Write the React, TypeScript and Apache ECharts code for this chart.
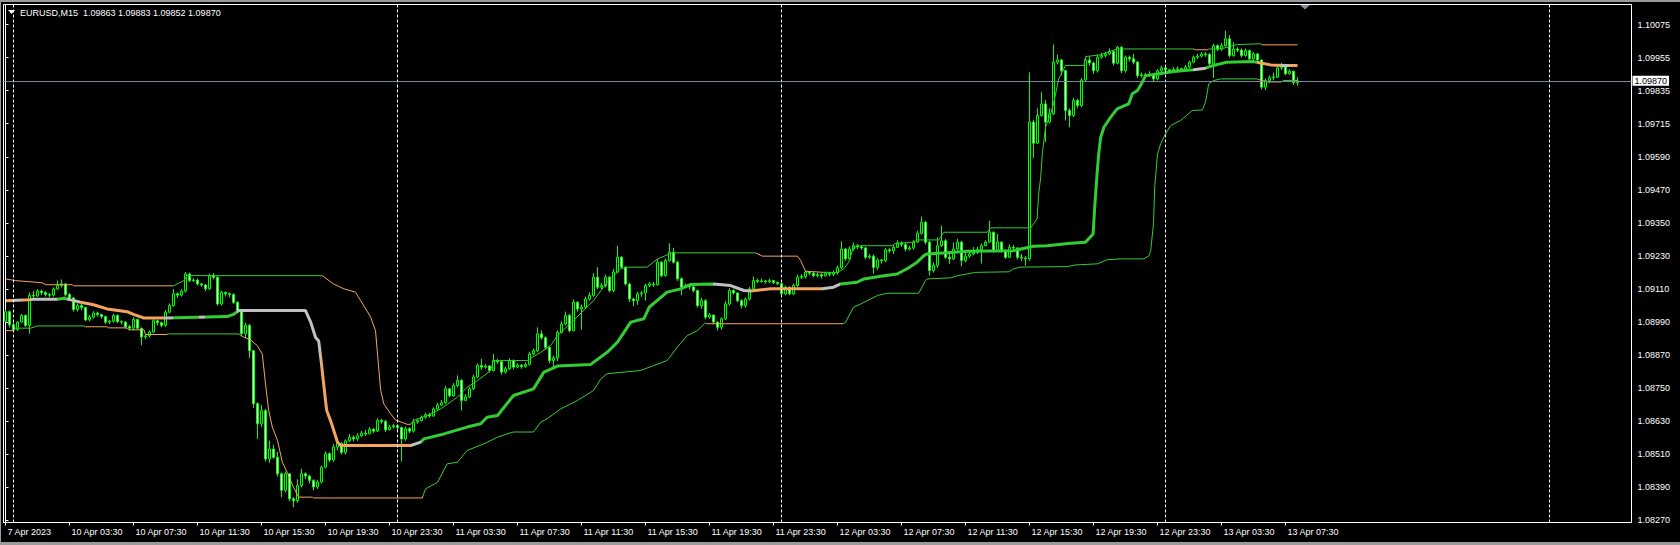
import React, { useEffect, useRef } from "react";
import * as echarts from "echarts";

// ---------- DATA (prices in points: price = 1 + p / 100000) ----------
const SYMBOL = "EURUSD,M15";
const OPEN0 = 8995;

const closes = [
  9030, 8982, 8965, 8992, 9016, 8980, 9089, 9087, 9105, 9100, 9092, 9090, 9112, 9125, 9131, 9092,
  9080, 9038, 9052, 9045, 9000, 9010, 9025, 9020, 9012, 8992, 8995, 9016, 8994, 8992, 8975, 8970,
  9002, 8970, 8938, 8942, 8956, 8997, 8990, 8980, 9028, 9052, 9095, 9090, 9105, 9167, 9143, 9145,
  9131, 9127, 9113, 9161, 9155, 9058, 9100, 9095, 9092, 9064, 9034, 8950, 8980, 8888, 8695, 8622,
  8670, 8494, 8530, 8500, 8440, 8380, 8440, 8349, 8342, 8397, 8440, 8432, 8416, 8392, 8410, 8464,
  8513, 8490, 8537, 8550, 8518, 8560, 8573, 8567, 8578, 8588, 8585, 8602, 8595, 8634, 8630, 8600,
  8610, 8615, 8608, 8567, 8604, 8595, 8628, 8634, 8646, 8655, 8650, 8676, 8690, 8698, 8749, 8724,
  8761, 8780, 8707, 8720, 8749, 8792, 8834, 8828, 8832, 8816, 8852, 8848, 8810, 8822, 8852, 8828,
  8835, 8830, 8838, 8876, 8888, 8949, 8935, 8900, 8852, 8862, 8955, 8985, 9016, 8961, 9064, 9040,
  9046, 9076, 9089, 9155, 9119, 9125, 9155, 9107, 9174, 9228, 9192, 9131, 9076, 9070, 9095, 9098,
  9125, 9131, 9128, 9210, 9161, 9216, 9246, 9210, 9150, 9119, 9125, 9120, 9107, 9052, 9070, 9010,
  9018, 8992, 8973, 9004, 9058, 9107, 9098, 9070, 9052, 9076, 9113, 9143, 9140, 9142, 9139, 9143,
  9136, 9132, 9095, 9119, 9095, 9125, 9155, 9158, 9174, 9170, 9161, 9165, 9160, 9170, 9166, 9172,
  9190, 9258, 9222, 9258, 9270, 9266, 9262, 9228, 9232, 9191, 9218, 9215, 9255, 9252, 9264, 9279,
  9274, 9258, 9262, 9283, 9315, 9355, 9283, 9180, 9198, 9270, 9288, 9228, 9222, 9258, 9283, 9216,
  9232, 9240, 9246, 9256, 9270, 9283, 9319, 9252, 9283, 9252, 9228, 9264, 9262, 9228, 9225, 9222,
  9720, 9643, 9744, 9786, 9720, 9750, 9938, 9946, 9907, 9762, 9744, 9798, 9780, 9873, 9946, 9935,
  9907, 9956, 9962, 9968, 9977, 9934, 9992, 9907, 9956, 9950, 9938, 9889, 9892, 9890, 9893, 9877,
  9907, 9917, 9910, 9905, 9912, 9914, 9911, 9920, 9938, 9956, 9960, 9968, 9966, 9932, 9998, 9985,
  9998, 10023, 9962, 9986, 9982, 9962, 9980, 9950, 9968, 9946, 9847, 9871, 9881, 9883, 9917, 9920,
  9896, 9905, 9863, 9870,
];

const highs = [
  9036, 9034, 8990, 8996, 9022, 9020, 9100, 9105, 9112, 9110, 9104, 9098, 9118, 9143, 9147, 9133,
  9098, 9082, 9060, 9062, 9048, 9018, 9032, 9030, 9022, 9015, 9000, 9022, 9020, 8998, 8995, 8982,
  9010, 9004, 8972, 8948, 8962, 9003, 9000, 8994, 9035, 9060, 9112, 9100, 9112, 9174, 9172, 9152,
  9150, 9135, 9130, 9168, 9170, 9158, 9106, 9104, 9100, 9097, 9068, 9036, 8990, 8985, 8890, 8700,
  8690, 8675, 8560, 8545, 8520, 8445, 8448, 8443, 8355, 8420, 8458, 8445, 8436, 8420, 8418, 8470,
  8522, 8518, 8548, 8560, 8555, 8565, 8585, 8580, 8588, 8596, 8600, 8610, 8606, 8642, 8640, 8636,
  8618, 8622, 8618, 8612, 8612, 8610, 8640, 8640, 8652, 8662, 8660, 8682, 8698, 8708, 8760, 8752,
  8770, 8798, 8784, 8730, 8756, 8800, 8842, 8858, 8840, 8836, 8876, 8858, 8852, 8830, 8860, 8856,
  8842, 8840, 8845, 8884, 8896, 8973, 8962, 8940, 8905, 8870, 8962, 8995, 9030, 9022, 9075, 9068,
  9056, 9085, 9100, 9170, 9192, 9135, 9165, 9160, 9185, 9270, 9232, 9195, 9135, 9080, 9102, 9106,
  9132, 9138, 9138, 9222, 9215, 9224, 9279, 9262, 9215, 9155, 9132, 9130, 9128, 9110, 9080, 9075,
  9025, 9012, 8995, 9010, 9068, 9115, 9112, 9100, 9075, 9082, 9120, 9158, 9150, 9150, 9146, 9150,
  9145, 9140, 9135, 9125, 9122, 9132, 9165, 9166, 9180, 9178, 9176, 9172, 9170, 9176, 9174, 9180,
  9198, 9286, 9262, 9268, 9282, 9276, 9272, 9266, 9240, 9238, 9225, 9222, 9262, 9262, 9272, 9290,
  9286, 9280, 9270, 9290, 9324, 9376, 9360, 9288, 9210, 9300, 9343, 9294, 9240, 9282, 9295, 9288,
  9245, 9250, 9265, 9266, 9278, 9290, 9361, 9322, 9312, 9286, 9256, 9275, 9272, 9265, 9240, 9232,
  9901, 9728, 9770, 9829, 9800, 9770, 10002, 9965, 9950, 9910, 9770, 9808, 9805, 9880, 9955, 9958,
  9940, 9965, 9972, 9976, 9988, 9980, 9998, 9996, 9962, 9962, 9968, 9942, 9900, 9898, 9905, 9896,
  9912, 9925, 9920, 9914, 9920, 9922, 9918, 9928, 9944, 9962, 9968, 9975, 9975, 9972, 10005, 10002,
  10008, 10053, 10036, 10010, 9992, 9988, 9988, 9984, 9975, 9972, 9948, 9878, 9890, 9900, 9925, 9935,
  9922, 9912, 9906, 9883,
];

const lows = [
  8990, 8972, 8958, 8960, 8990, 8975, 8950, 9075, 9085, 9090, 9085, 9083, 9085, 9110, 9118, 9085,
  9072, 9030, 9030, 9035, 8995, 8995, 9005, 9012, 9005, 8985, 8985, 8990, 8988, 8984, 8968, 8962,
  8962, 8965, 8908, 8930, 8936, 8952, 8980, 8973, 8975, 9024, 9048, 9080, 9085, 9100, 9138, 9138,
  9125, 9120, 9105, 9110, 9148, 9052, 9052, 9085, 9082, 9058, 9028, 8940, 8935, 8862, 8680, 8567,
  8610, 8485, 8480, 8495, 8430, 8355, 8372, 8340, 8318, 8335, 8390, 8420, 8405, 8380, 8385, 8405,
  8460, 8482, 8484, 8525, 8510, 8510, 8555, 8558, 8560, 8575, 8578, 8585, 8588, 8592, 8622, 8592,
  8598, 8605, 8600, 8485, 8560, 8588, 8590, 8622, 8630, 8640, 8644, 8648, 8670, 8686, 8695, 8718,
  8720, 8755, 8670, 8705, 8716, 8745, 8788, 8818, 8822, 8808, 8812, 8840, 8800, 8804, 8818, 8820,
  8825, 8822, 8826, 8834, 8870, 8882, 8928, 8892, 8842, 8828, 8850, 8950, 8980, 8955, 8958, 9030,
  8965, 9040, 9070, 9085, 9112, 9112, 9118, 9100, 9100, 9170, 9185, 9125, 9065, 9050, 9055, 9084,
  9070, 9120, 9120, 9125, 9155, 9158, 9212, 9205, 9142, 9090, 9115, 9110, 9100, 9045, 9040, 9002,
  9004, 8985, 8961, 8965, 9000, 9052, 9092, 9064, 9042, 9045, 9070, 9110, 9134, 9135, 9132, 9134,
  9130, 9126, 9085, 9090, 9090, 9090, 9120, 9148, 9150, 9162, 9155, 9155, 9150, 9158, 9158, 9160,
  9165, 9185, 9215, 9218, 9252, 9258, 9255, 9220, 9222, 9168, 9182, 9205, 9210, 9244, 9240, 9262,
  9266, 9250, 9252, 9255, 9280, 9310, 9275, 9161, 9172, 9190, 9265, 9222, 9204, 9218, 9252, 9195,
  9210, 9226, 9235, 9240, 9205, 9268, 9280, 9245, 9250, 9245, 9222, 9225, 9255, 9220, 9214, 9198,
  9215, 9590, 9640, 9740, 9647, 9715, 9745, 9930, 9890, 9726, 9701, 9738, 9770, 9775, 9868, 9925,
  9896, 9900, 9950, 9955, 9964, 9926, 9930, 9898, 9900, 9940, 9930, 9880, 9882, 9884, 9885, 9868,
  9872, 9902, 9904, 9898, 9905, 9906, 9904, 9908, 9915, 9934, 9950, 9955, 9958, 9922, 9880, 9978,
  9980, 9994, 9955, 9958, 9975, 9955, 9958, 9944, 9945, 9940, 9838, 9836, 9862, 9872, 9880, 9910,
  9890, 9893, 9855, 9852,
];

// indicator lines: vertices [bar index, price points]
const midLine = [
  [0, 9070], [6, 9073], [7, 9075], [13, 9075], [14.6, 9079], [16.3, 9073], [18.8, 9064], [22, 9055],
  [25.4, 9040], [30.4, 9030], [32, 9020], [34.6, 9007], [40.4, 9007], [55.4, 9012], [57, 9020],
  [58.3, 9034], [75, 9034], [76.3, 8992], [77.5, 8937], [78.3, 8923], [79, 8840], [79.4, 8785],
  [80.3, 8670], [81.4, 8628], [83, 8555], [83.8, 8543], [101.3, 8543], [103.8, 8555], [104.6, 8567],
  [109.6, 8585], [115.4, 8610], [118.8, 8622], [120.4, 8646], [123, 8652], [127, 8725], [132, 8749],
  [134.6, 8810], [138, 8832], [146.3, 8838], [150.4, 8882], [153, 8919], [156.3, 8992], [159.6, 9004],
  [160.9, 9046], [165.4, 9101], [168.8, 9113], [171.3, 9129], [177, 9131], [181.3, 9125], [184.6, 9107],
  [186.3, 9105], [191.3, 9113], [204.2, 9113], [207, 9119], [208.8, 9131], [212.9, 9137], [214.6, 9149],
  [218.8, 9159], [222.9, 9167], [225.4, 9186], [227.9, 9210], [229.6, 9234], [230.4, 9240], [235.4, 9244],
  [240.4, 9250], [252, 9252], [257, 9268], [260.4, 9270], [266.3, 9279], [270, 9283], [271.9, 9313],
  [272.3, 9410], [272.9, 9532], [273.3, 9604], [273.8, 9665], [274.6, 9701], [276.3, 9738], [277.9, 9768],
  [280.8, 9786], [281.7, 9823], [283, 9835], [284.2, 9865], [285, 9889], [288, 9895], [292, 9904],
  [297, 9910], [300, 9916], [302, 9926], [305.4, 9938], [312, 9940], [313.8, 9935], [316.3, 9928],
  [319.6, 9926], [323, 9926],
];
const midSegments = [
  [0, 1.8, "orange"], [1.8, 3.8, "gray"], [3.8, 6.4, "orange"], [6.4, 12.8, "gray"], [12.8, 15.3, "green"],
  [15.3, 18.7, "gray"], [18.7, 39.5, "orange"], [39.5, 42, "gray"], [42, 48.3, "green"], [48.3, 49.8, "gray"],
  [49.8, 57.8, "green"], [57.8, 78.8, "gray"], [78.8, 101.5, "orange"], [101.5, 104, "gray"],
  [104, 177, "green"], [177, 186.3, "gray"], [186.3, 204.2, "orange"], [204.2, 208.5, "gray"],
  [208.5, 297, "green"], [297, 300, "gray"], [300, 312.8, "green"], [312.8, 319, "orange"],
  [319, 320.8, "gray"], [320.8, 330, "orange"],
];

const upperLine = [
  [0, 9149], [2.5, 9143], [9.2, 9135], [10, 9128], [16.7, 9128], [17, 9124], [42, 9124], [44.6, 9143],
  [45.4, 9161], [79.2, 9161], [82, 9131], [84.6, 9113], [87.5, 9101], [88.8, 9070], [91.3, 9010],
  [92.5, 8961], [93.8, 8743], [94.6, 8694], [96.3, 8658], [97.5, 8636], [100.4, 8620], [101.3, 8620],
  [102, 8634], [105.4, 8652], [108.8, 8676], [113, 8719], [115.4, 8755], [118, 8779], [121.3, 8816],
  [122, 8852], [130.4, 8852], [133.8, 8882], [136.3, 8907], [138, 8943], [142, 8998], [147, 9070],
  [150.4, 9137], [153.8, 9186], [155.4, 9192], [160.4, 9192], [163, 9222], [166.7, 9244], [187.5, 9244],
  [189.2, 9232], [198, 9232], [198.8, 9216], [200, 9177], [204.6, 9173], [208, 9173], [209.6, 9186],
  [210.8, 9210], [212, 9264], [213.8, 9270], [221.7, 9270], [222.5, 9279], [227, 9283], [228, 9291],
  [233.3, 9291], [234.6, 9319], [245.4, 9319], [246.3, 9335], [256.3, 9335], [257.9, 9368], [258.3, 9459],
  [258.8, 9519], [259.2, 9604], [260, 9701], [261.3, 9750], [262, 9786], [263.3, 9877], [264.6, 9914],
  [265, 9926], [269.6, 9926], [270, 9958], [273.8, 9965], [277.9, 9986], [297, 9986], [297.5, 9983],
  [300.4, 9983], [301, 9986], [303.8, 9986], [308, 10002], [313.8, 10005], [314, 10001], [323, 10001],
];
const upperSegments = [
  [0, 42, "orange"], [42, 79.2, "green"], [79.2, 101.3, "orange"], [101.3, 187.5, "green"],
  [187.5, 204.6, "orange"], [204.6, 297, "green"], [297, 300.5, "orange"], [300.5, 313.8, "green"],
  [313.8, 330, "orange"],
];

const lowerLine = [
  [0, 8961], [2, 8961], [2.5, 8970], [6.3, 8970], [8, 8978], [19.6, 8978], [20, 8975], [25.4, 8975],
  [25.8, 8971], [30.4, 8971], [30.8, 8964], [34.6, 8964], [35, 8947], [40.4, 8947], [40.6, 8949],
  [58.3, 8949], [59.6, 8937], [61.3, 8927], [62.9, 8907], [64.2, 8876], [65, 8767], [65.8, 8670],
  [66.7, 8610], [68, 8561], [69.2, 8482], [70.4, 8446], [72, 8391], [73.3, 8355], [76.7, 8355],
  [77, 8352], [104.2, 8352], [105, 8385], [108, 8409], [110.4, 8476], [113, 8482], [115.4, 8525],
  [119.6, 8549], [123, 8573], [125.4, 8585], [127, 8592], [132, 8592], [133.8, 8628], [135.4, 8640],
  [138.8, 8676], [143, 8707], [147, 8743], [148.8, 8785], [150.4, 8804], [158.8, 8816], [165.4, 8852],
  [168.3, 8907], [170.4, 8943], [173, 8961], [175, 8990], [175.2, 8986], [209.4, 8986], [210, 8991],
  [212, 9046], [213.8, 9058], [216.3, 9076], [218, 9089], [220.4, 9097], [228.3, 9097], [230, 9143],
  [230.4, 9149], [236.3, 9153], [238, 9161], [242.5, 9173], [250.8, 9175], [252, 9186], [253.8, 9192],
  [265.4, 9194], [267.5, 9200], [273, 9204], [275.4, 9219], [278.8, 9222], [284.6, 9222], [285.9, 9234],
  [286.3, 9252], [287, 9350], [287.3, 9483], [288, 9604], [288.8, 9641], [290, 9677], [291.3, 9707],
  [293.8, 9726], [296.7, 9762], [299.2, 9764], [300, 9792], [300.8, 9859], [302, 9871], [303.8, 9877],
  [312.9, 9877], [313.5, 9874], [315.4, 9866], [319, 9866], [319.5, 9871], [323, 9872],
];
const lowerSegments = [
  [0, 2.2, "orange"], [2.2, 19.8, "green"], [19.8, 40.5, "orange"], [40.5, 58.5, "green"],
  [58.5, 104.5, "orange"], [104.5, 175, "green"], [175, 209.5, "orange"], [209.5, 313, "green"],
  [313, 319, "orange"], [319, 322.4, "green"], [322.4, 330, "orange"],
];

const xTickLabels = [
  "7 Apr 2023", "10 Apr 03:30", "10 Apr 07:30", "10 Apr 11:30", "10 Apr 15:30", "10 Apr 19:30",
  "10 Apr 23:30", "11 Apr 03:30", "11 Apr 07:30", "11 Apr 11:30", "11 Apr 15:30", "11 Apr 19:30",
  "11 Apr 23:30", "12 Apr 03:30", "12 Apr 07:30", "12 Apr 11:30", "12 Apr 15:30", "12 Apr 19:30",
  "12 Apr 23:30", "13 Apr 03:30", "13 Apr 07:30",
];
const X_TICK_STEP = 16;
const yTickLabels = [
  "1.08270", "1.08390", "1.08510", "1.08630", "1.08750", "1.08870", "1.08990", "1.09110",
  "1.09230", "1.09350", "1.09470", "1.09590", "1.09715", "1.09835", "1.09955", "1.10075",
];
const daySeparators = [2, 98, 194, 290, 386];
const N_SLOTS = 407;
const Y_MIN = 8262.7;
const Y_MAX = 10147.8;

const COLORS: Record<string, string> = {
  green: "#32CD32",
  gray: "#C0C0C0",
  orange: "#F4A460",
};
const CANDLE = "#00FF00";
const FONT = '"Liberation Sans", Arial, sans-serif';

const toPrice = (p: number) => (1 + p / 100000).toFixed(5);

export default function App() {
  const ref = useRef<HTMLDivElement>(null);

  useEffect(() => {
    if (!ref.current) return;
    const chart = echarts.init(ref.current, undefined, { renderer: "svg" });

    const candles = closes.map((c, i) => {
      const o = i === 0 ? OPEN0 : closes[i - 1];
      const h = Math.max(highs[i], o, c);
      const l = Math.min(lows[i], o, c);
      return [o, c, l, h];
    });
    const last = candles[candles.length - 1];
    const lastClose = last[1];

    const yFirst = parseFloat(yTickLabels[0]) * 100000 - 100000;
    const yLast = parseFloat(yTickLabels[yTickLabels.length - 1]) * 100000 - 100000;
    const yTickValues = yTickLabels.map(
      (_, k) => yFirst + (k * (yLast - yFirst)) / (yTickLabels.length - 1)
    );

    const cats = Array.from({ length: N_SLOTS }, (_, i) => String(i));
    const showTick = (idx: number) =>
      idx % X_TICK_STEP === 0 && idx / X_TICK_STEP < xTickLabels.length;

    const mkVisual = (seriesIndex: number, segs: any[]) => ({
      type: "piecewise",
      show: false,
      seriesIndex,
      dimension: 0,
      pieces: segs.map(([a, b, c]) => ({ gte: a, lt: b, color: COLORS[c] })),
    });

    const option: any = {
      animation: false,
      backgroundColor: "#000",
      grid: {
        left: 3.5,
        right: 48.5,
        top: 4.5,
        bottom: 22.5,
        show: true,
        borderColor: "#fff",
        borderWidth: 1,
        backgroundColor: "#000",
      },
      xAxis: [
        {
          type: "category",
          data: cats,
          boundaryGap: true,
          axisLine: { show: true, lineStyle: { color: "#fff", width: 1 } },
          axisTick: {
            show: true,
            interval: (idx: number) => showTick(idx),
            alignWithLabel: true,
            length: 3,
            lineStyle: { color: "#fff" },
          },
          axisLabel: {
            interval: (idx: number) => showTick(idx),
            formatter: (_v: string, idx: number) => xTickLabels[idx / X_TICK_STEP] ?? "",
            color: "#fff",
            fontSize: 9,
            fontFamily: FONT,
            align: "left",
            margin: 5,
            padding: [0, 0, 0, 2],
          },
          splitLine: { show: false },
        },
        {
          type: "value",
          min: -0.5,
          max: N_SLOTS - 0.5,
          show: false,
          splitLine: { show: false },
        },
      ],
      yAxis: {
        type: "value",
        position: "right",
        min: Y_MIN,
        max: Y_MAX,
        splitLine: { show: false },
        axisLine: { show: true, lineStyle: { color: "#fff" } },
        axisTick: {
          show: true,
          length: 3,
          lineStyle: { color: "#fff" },
          customValues: yTickValues,
        },
        axisLabel: {
          customValues: yTickValues,
          color: "#fff",
          fontSize: 9,
          fontFamily: FONT,
          margin: 6,
          formatter: (v: number) => {
            let best = 0;
            yTickValues.forEach((t, k) => {
              if (Math.abs(t - v) < Math.abs(yTickValues[best] - v)) best = k;
            });
            return yTickLabels[best];
          },
        },
      },
      visualMap: [
        mkVisual(1, midSegments),
        mkVisual(2, upperSegments),
        mkVisual(3, lowerSegments),
      ],
      series: [
        {
          type: "candlestick",
          name: SYMBOL,
          xAxisIndex: 0,
          yAxisIndex: 0,
          data: candles,
          barWidth: 2,
          z: 2,
          itemStyle: {
            color: "#000",
            color0: "#fff",
            borderColor: CANDLE,
            borderColor0: CANDLE,
            borderColorDoji: CANDLE,
            borderWidth: 1,
          },
          markLine: {
            silent: true,
            symbol: ["none", "none"],
            animation: false,
            data: [
              ...daySeparators.map((d) => ({
                xAxis: d,
                lineStyle: { color: "#fff", type: [3, 2], width: 1 },
                label: { show: false },
              })),
              {
                yAxis: lastClose,
                lineStyle: { color: "#778899", type: "solid", width: 1 },
                label: {
                  show: true,
                  position: "end",
                  formatter: toPrice(lastClose),
                  backgroundColor: "#fff",
                  color: "#000",
                  fontSize: 9,
                  fontFamily: FONT,
                  padding: [1, 2, 0, 2],
                  distance: 1,
                },
              },
            ],
          },
        },
        {
          type: "line",
          name: "mid",
          xAxisIndex: 1,
          yAxisIndex: 0,
          data: midLine,
          symbol: "none",
          showSymbol: false,
          lineStyle: { width: 3 },
          z: 4,
          silent: true,
        },
        {
          type: "line",
          name: "upper",
          xAxisIndex: 1,
          yAxisIndex: 0,
          data: upperLine,
          symbol: "none",
          showSymbol: false,
          lineStyle: { width: 1 },
          z: 3,
          silent: true,
        },
        {
          type: "line",
          name: "lower",
          xAxisIndex: 1,
          yAxisIndex: 0,
          data: lowerLine,
          symbol: "none",
          showSymbol: false,
          lineStyle: { width: 1 },
          z: 3,
          silent: true,
        },
      ],
      graphic: [
        { type: "rect", shape: { x: 0, y: 0, width: 1680, height: 2 }, style: { fill: "#9a9a9a" }, silent: true },
        { type: "rect", shape: { x: 0, y: 542, width: 1680, height: 3 }, style: { fill: "#9a9a9a" }, silent: true },
        { type: "rect", shape: { x: 0, y: 0, width: 1, height: 545 }, style: { fill: "#9a9a9a" }, silent: true },
        {
          type: "polygon",
          shape: { points: [[8, 10], [15, 10], [11.5, 14]] },
          style: { fill: "#fff" },
          silent: true,
        },
        {
          type: "text",
          x: 20,
          y: 12.5,
          style: {
            text: `${SYMBOL}  ${toPrice(last[0])} ${toPrice(last[3])} ${toPrice(last[2])} ${toPrice(last[1])}`,
            fill: "#fff",
            font: `9px ${FONT}`,
            textVerticalAlign: "middle",
          },
          silent: true,
        },
        {
          type: "polygon",
          shape: { points: [[1300, 5], [1310, 5], [1305, 9.5]] },
          style: { fill: "#7f8fa0" },
          silent: true,
        },
      ],
    };

    chart.setOption(option);
    return () => chart.dispose();
  }, []);

  return (
    <div
      ref={ref}
      style={{ position: "fixed", left: 0, top: 0, width: 1680, height: 545, background: "#000" }}
    />
  );
}
